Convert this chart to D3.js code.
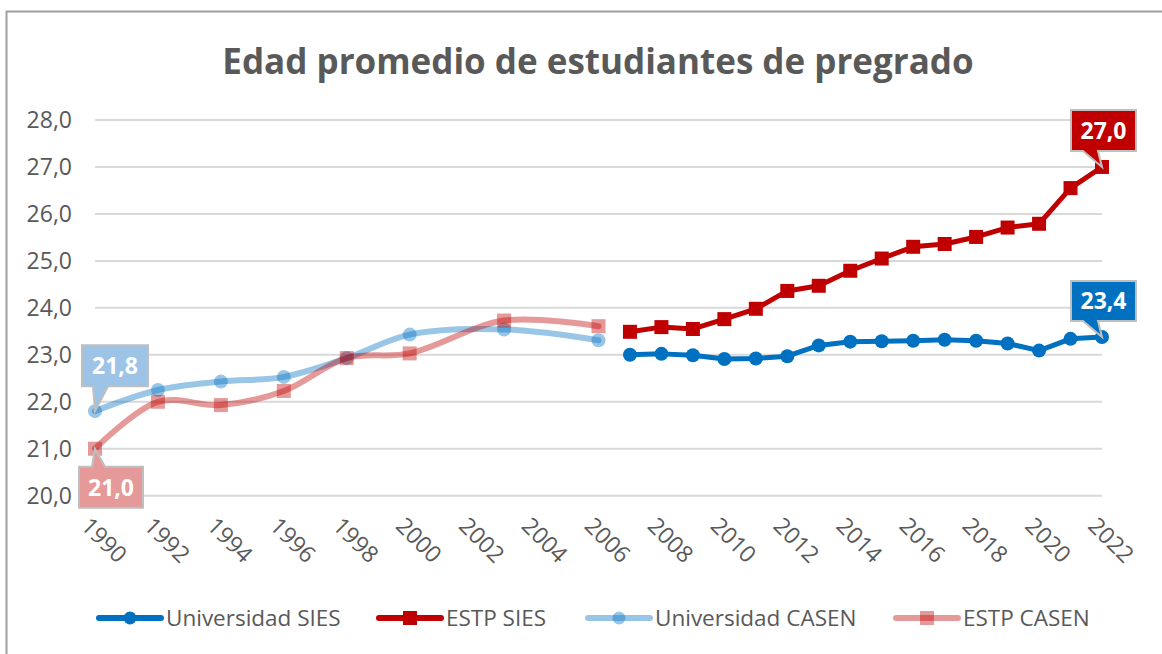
<!DOCTYPE html>
<html>
<head>
<meta charset="utf-8">
<script src="https://cdn.jsdelivr.net/npm/d3@7"></script>
<style>
  body { margin: 0; background: #fff; }
  text { font-family: "Open Sans", sans-serif; fill: #595959; }
</style>
</head>
<body>
<script>
// series data
const casenYears = [1990, 1992, 1994, 1996, 1998, 2000, 2003, 2006];
const univCasen = [21.8, 22.25, 22.43, 22.53, 22.93, 23.43, 23.54, 23.31];
const estpCasen = [21.0, 22.0, 21.93, 22.23, 22.93, 23.03, 23.73, 23.61];

const siesYears = [2007, 2008, 2009, 2010, 2011, 2012, 2013, 2014, 2015, 2016, 2017, 2018, 2019, 2020, 2021, 2022];
const univSies = [23.0, 23.02, 22.99, 22.91, 22.92, 22.97, 23.2, 23.28, 23.29, 23.3, 23.32, 23.3, 23.24, 23.09, 23.34, 23.38];
const estpSies = [23.49, 23.59, 23.55, 23.76, 23.98, 24.36, 24.47, 24.79, 25.05, 25.3, 25.36, 25.51, 25.71, 25.79, 26.55, 27.0];

const yTicks = [20, 21, 22, 23, 24, 25, 26, 27, 28];
const xTicks = [1990, 1992, 1994, 1996, 1998, 2000, 2002, 2004, 2006, 2008, 2010, 2012, 2014, 2016, 2018, 2020, 2022];

const title = 'Edad promedio de estudiantes de pregrado';
const legendNames = ['Universidad SIES', 'ESTP SIES', 'Universidad CASEN', 'ESTP CASEN'];

const W = 1162, H = 654;
const fmt = v => d3.format('.1f')(v).replace('.', ',');

const svg = d3.select('body').append('svg')
  .attr('width', W)
  .attr('height', H);

// outer frame (top + left edges visible)
svg.append('path')
  .attr('d', `M6.5,${H} V11.5 H${W}`)
  .attr('fill', 'none')
  .attr('stroke', '#a0a0a0')
  .attr('stroke-width', 2);

const x = d3.scaleLinear().domain([1990, 2022]).range([95, 1102]);
const y = d3.scaleLinear().domain([20, 28]).range([495.7, 120]);

// title
svg.append('text')
  .attr('x', 598)
  .attr('y', 74)
  .attr('text-anchor', 'middle')
  .style('font-size', '35px')
  .style('font-weight', 'bold')
  .text(title);

// gridlines
svg.append('g').selectAll('line')
  .data(yTicks)
  .enter().append('line')
  .attr('x1', x(1990)).attr('x2', x(2022))
  .attr('y1', d => y(d)).attr('y2', d => y(d))
  .attr('stroke', '#d9d9d9')
  .attr('stroke-width', 2);

// y axis labels
svg.append('g').selectAll('text')
  .data(yTicks)
  .enter().append('text')
  .attr('x', 72)
  .attr('y', d => y(d))
  .attr('dy', '0.35em')
  .attr('text-anchor', 'end')
  .style('font-size', '23px')
  .text(fmt);

// x axis labels, rotated 45deg
svg.append('g').selectAll('text')
  .data(xTicks)
  .enter().append('text')
  .attr('transform', d => `translate(${x(d) - 3},${515}) rotate(45)`)
  .attr('dy', '0.75em')
  .style('font-size', '23px')
  .text(d => d);

const blue = '#0070C0', red = '#C00000';

function drawSeries(years, vals, color, opacity, curve, shape, lw, ms) {
  const pts = years.map((yr, i) => [yr, vals[i]]);
  const g = svg.append('g');
  g.append('path')
    .datum(pts)
    .attr('fill', 'none')
    .attr('stroke', color)
    .attr('stroke-opacity', opacity)
    .attr('stroke-width', lw)
    .attr('stroke-linejoin', 'round')
    .attr('stroke-linecap', 'round')
    .attr('d', d3.line().x(d => x(d[0])).y(d => y(d[1])).curve(curve));
  if (shape === 'circle') {
    g.selectAll('circle').data(pts).enter().append('circle')
      .attr('cx', d => x(d[0])).attr('cy', d => y(d[1]))
      .attr('r', ms / 2)
      .attr('fill', color).attr('fill-opacity', opacity);
  } else {
    g.selectAll('rect').data(pts).enter().append('rect')
      .attr('x', d => x(d[0]) - ms / 2).attr('y', d => y(d[1]) - ms / 2)
      .attr('width', ms).attr('height', ms)
      .attr('fill', color).attr('fill-opacity', opacity);
  }
}

const smooth = d3.curveCatmullRom.alpha(0.5);
drawSeries(casenYears, univCasen, blue, 0.4, smooth, 'circle', 6, 14);
drawSeries(casenYears, estpCasen, red, 0.4, smooth, 'rect', 6, 14);
drawSeries(siesYears, univSies, blue, 1, d3.curveLinear, 'circle', 5, 14);
drawSeries(siesYears, estpSies, red, 1, d3.curveLinear, 'rect', 5, 14);

// callout labels
function callout(px, py, bx, by, bw, bh, base0, base1, fill, label) {
  const top = py < by; // pointer goes up
  let d;
  if (top) {
    d = `M${bx},${by} H${base0} L${px},${py} L${base1},${by} H${bx + bw} V${by + bh} H${bx} Z`;
  } else {
    d = `M${bx},${by} H${bx + bw} V${by + bh} H${base1} L${px},${py} L${base0},${by + bh} H${bx} Z`;
  }
  svg.append('path')
    .attr('d', d)
    .attr('fill', fill)
    .attr('stroke', '#bfbfbf')
    .attr('stroke-width', 2)
    .attr('stroke-linejoin', 'miter');
  svg.append('text')
    .attr('x', bx + bw / 2)
    .attr('y', by + bh / 2)
    .attr('dy', '0.36em')
    .attr('text-anchor', 'middle')
    .style('font-size', '23px')
    .style('font-weight', 'bold')
    .style('fill', '#fff')
    .text(label);
}

{
  const px = x(casenYears[0]), py = y(univCasen[0]);
  callout(px, py, px - 13, py - 66, 66, 41, px - 2, px + 13, '#9DC3E6', fmt(univCasen[0]));
}
{
  const px = x(casenYears[0]), py = y(estpCasen[0]);
  callout(px, py, px - 16, py + 18, 64, 41, px - 3, px + 10, '#E69999', fmt(estpCasen[0]));
}
{
  const n = siesYears.length - 1;
  const px = x(siesYears[n]), py = y(estpSies[n]);
  callout(px, py, px - 31, py - 57, 65, 41, px - 19, px - 4, red, fmt(estpSies[n]));
  const qy = y(univSies[n]);
  callout(px, qy, px - 31, qy - 56, 65, 40, px - 19, px - 4, blue, fmt(univSies[n]));
}

// legend
const legendX = [99, 379, 588, 896];
const legendCol = [blue, red, blue, red];
const legendOp = [1, 1, 0.4, 0.4];
const legendShape = ['circle', 'rect', 'circle', 'rect'];
const ly = 618;
legendNames.forEach((name, i) => {
  const g = svg.append('g');
  const x0 = legendX[i];
  g.append('line')
    .attr('x1', x0).attr('x2', x0 + 62)
    .attr('y1', ly).attr('y2', ly)
    .attr('stroke', legendCol[i])
    .attr('stroke-opacity', legendOp[i])
    .attr('stroke-width', 6)
    .attr('stroke-linecap', 'round');
  if (legendShape[i] === 'circle') {
    g.append('circle').attr('cx', x0 + 31).attr('cy', ly).attr('r', 6.5)
      .attr('fill', legendCol[i]).attr('fill-opacity', legendOp[i]);
  } else {
    g.append('rect').attr('x', x0 + 31 - 7).attr('y', ly - 7)
      .attr('width', 14).attr('height', 14)
      .attr('fill', legendCol[i]).attr('fill-opacity', legendOp[i]);
  }
  g.append('text')
    .attr('x', x0 + 67)
    .attr('y', ly)
    .attr('dy', '0.35em')
    .style('font-size', '22.5px')
    .text(name);
});
</script>
</body>
</html>
